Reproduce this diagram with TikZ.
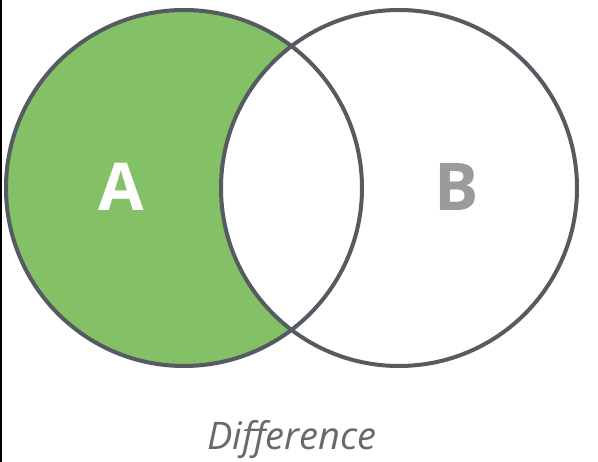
\documentclass[tikz,border=0pt]{standalone}
\usepackage{fontspec}
\setmainfont{Open Sans}
\begin{document}
\begin{tikzpicture}[x=1pt,y=-1pt,
  ring/.style={draw=ringgray,line width=4pt},
  letter/.style={font=\fontsize{66}{66}\selectfont\bfseries,inner sep=0pt}]
\definecolor{ringgray}{HTML}{565B61}
\definecolor{vgreen}{HTML}{84C066}
\definecolor{bgray}{HTML}{9A9B9D}
\definecolor{capgray}{HTML}{66696D}
\useasboundingbox (0,0) rectangle (598,462);
\fill[white] (0,0) rectangle (598,462);
\draw[black,line width=1.6pt] (0.8,0) -- (0.8,462);
\coordinate (ca) at (184,188);
\coordinate (cb) at (399,188);
\begin{scope}
  \clip (ca) circle (178);
  \fill[vgreen] (ca) circle (178);
  \fill[white] (cb) circle (178);
\end{scope}
\draw[ring] (ca) circle (178);
\draw[ring] (cb) circle (178);
\node[letter,text=white] (A) at (121,187) {A};
\node[letter,text=bgray] (B) at (457,187) {B};
\node[font=\fontsize{38}{38}\selectfont\itshape,text=capgray] (cap) at (292,440) {Difference};
\end{tikzpicture}
\end{document}
